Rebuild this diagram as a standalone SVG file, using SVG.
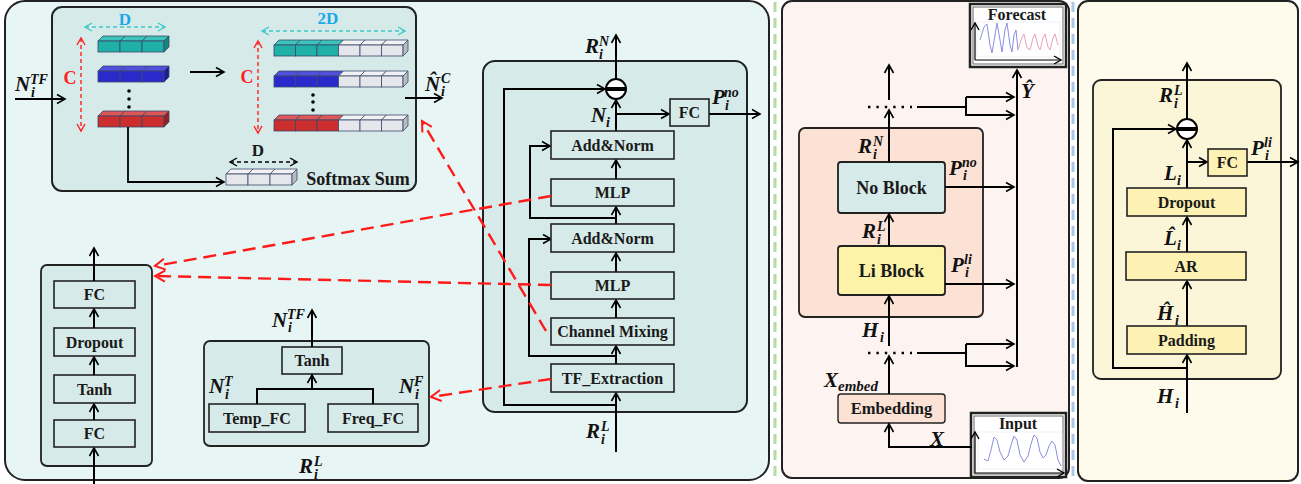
<svg xmlns="http://www.w3.org/2000/svg" xmlns:xlink="http://www.w3.org/1999/xlink" width="1301" height="484" viewBox="0 0 1301 484">
<style>
.t{font-family:"Liberation Serif",serif;font-weight:bold;font-size:16px;text-anchor:middle;dominant-baseline:central;fill:#1a1a1a}
.m{font-family:"Liberation Serif",serif;font-weight:bold;font-style:italic;font-size:21px;fill:#111}
.ms{font-family:"Liberation Serif",serif;font-weight:bold;font-style:italic;font-size:14px;fill:#111}
.box{fill:#d6ebe9;stroke:#222;stroke-width:1.6}
.ybox{fill:#fdf1b3;stroke:#222;stroke-width:1.6}
.ln{fill:none;stroke:#000;stroke-width:2}
.ar{fill:none;stroke:#000;stroke-width:2;marker-end:url(#ah)}
.rd{fill:none;stroke:#ff1a1a;stroke-width:2.4;stroke-dasharray:13 7;marker-end:url(#rh)}
.cell{stroke:#3a4a6a;stroke-width:0.8}
</style>
<defs>
<marker id="ah" markerWidth="12" markerHeight="12" refX="10" refY="6" orient="auto" markerUnits="userSpaceOnUse"><path d="M2,1.5 L10,6 L2,10.5" fill="none" stroke="#000" stroke-width="1.6"/></marker>
<marker id="rh" markerWidth="14" markerHeight="14" refX="12" refY="7" orient="auto" markerUnits="userSpaceOnUse"><path d="M2,1.5 L12,7 L2,12.5" fill="none" stroke="#ff1a1a" stroke-width="2"/></marker>
<marker id="ch" markerWidth="10" markerHeight="10" refX="8" refY="5" orient="auto-start-reverse" markerUnits="userSpaceOnUse"><path d="M1,1 L8,5 L1,9" fill="none" stroke="#40c8c8" stroke-width="1.4"/></marker>
<marker id="rsh" markerWidth="10" markerHeight="10" refX="8" refY="5" orient="auto-start-reverse" markerUnits="userSpaceOnUse"><path d="M1,1 L8,5 L1,9" fill="none" stroke="#ff2020" stroke-width="1.4"/></marker>
<marker id="bh" markerWidth="10" markerHeight="10" refX="8" refY="5" orient="auto-start-reverse" markerUnits="userSpaceOnUse"><path d="M1,1 L8,5 L1,9" fill="none" stroke="#000" stroke-width="1.4"/></marker>
<g id="tc"><polygon class="cell" points="0,0 5,-5 27,-5 22,0" fill="#3cc3ba"/><rect class="cell" x="0" y="0" width="22" height="11" fill="#1fb0a8"/></g>
<g id="bc"><polygon class="cell" points="0,0 5,-5 27,-5 22,0" fill="#5050dd"/><rect class="cell" x="0" y="0" width="22" height="11" fill="#2a2acc"/></g>
<g id="rc"><polygon class="cell" points="0,0 5,-5 27,-5 22,0" fill="#e05555"/><rect class="cell" x="0" y="0" width="22" height="11" fill="#cc2e2e"/></g>
<g id="gc"><polygon class="cell" points="0,0 5,-5 27,-5 22,0" fill="#f2f2f5"/><rect class="cell" x="0" y="0" width="22" height="11" fill="#e6e7ec"/></g>
<g id="tc2"><polygon class="cell" points="0,0 5,-5 26.5,-5 21.5,0" fill="#3cc3ba"/><rect class="cell" x="0" y="0" width="21.5" height="11" fill="#1fb0a8"/></g>
<g id="bc2"><polygon class="cell" points="0,0 5,-5 26.5,-5 21.5,0" fill="#5050dd"/><rect class="cell" x="0" y="0" width="21.5" height="11" fill="#2a2acc"/></g>
<g id="rc2"><polygon class="cell" points="0,0 5,-5 26.5,-5 21.5,0" fill="#e05555"/><rect class="cell" x="0" y="0" width="21.5" height="11" fill="#cc2e2e"/></g>
<g id="gc2"><polygon class="cell" points="0,0 5,-5 26.5,-5 21.5,0" fill="#f2f2f5"/><rect class="cell" x="0" y="0" width="21.5" height="11" fill="#e6e7ec"/></g>
</defs>
<rect width="1301" height="484" fill="#ffffff"/>

<!-- panels -->
<g id="panel-left"><rect x="5" y="1" width="764" height="479" rx="20" fill="#e8f5f5" stroke="#222" stroke-width="2"/></g>
<line x1="775" y1="2" x2="775" y2="482" stroke="#b7dba2" stroke-width="3" stroke-dasharray="10 6"/>
<g id="panel-mid"><rect x="782" y="1" width="287" height="477" rx="10" fill="#fdf4f1" stroke="#222" stroke-width="2"/></g>
<line x1="1073" y1="2" x2="1073" y2="482" stroke="#a9c9e9" stroke-width="3" stroke-dasharray="10 6"/>
<g id="panel-right"><rect x="1078" y="1" width="220" height="480" rx="10" fill="#fefbec" stroke="#222" stroke-width="2"/></g>

<!-- Softmax area -->
<g id="softmax">
<rect x="52" y="7" width="364" height="184" rx="10" fill="#d6ebe9" stroke="#222" stroke-width="2"/>
<text class="t" x="125" y="19" style="fill:#1aa8e8;font-size:17px">D</text>
<line x1="85" y1="27" x2="165" y2="27" stroke="#40c8c8" stroke-width="1.4" stroke-dasharray="4 3" marker-end="url(#ch)" marker-start="url(#ch)"/>
<text class="t" x="70" y="78" style="fill:#ff2020;font-size:18px">C</text>
<line x1="81" y1="38" x2="81" y2="131" stroke="#ff2020" stroke-width="1.4" stroke-dasharray="4 3" marker-end="url(#rsh)" marker-start="url(#rsh)"/>
<use href="#tc" x="98" y="41"/><use href="#tc" x="120" y="41"/><use href="#tc" x="142" y="41"/>
<polygon class="cell" points="164,41 169,36 169,47 164,52" fill="#14857f"/>
<use href="#bc" x="98" y="71"/><use href="#bc" x="120" y="71"/><use href="#bc" x="142" y="71"/>
<polygon class="cell" points="164,71 169,66 169,77 164,82" fill="#1c1c99"/>
<circle cx="129" cy="91" r="1.8" fill="#000"/><circle cx="129" cy="99" r="1.8" fill="#000"/><circle cx="129" cy="107" r="1.8" fill="#000"/>
<use href="#rc" x="98" y="116"/><use href="#rc" x="120" y="116"/><use href="#rc" x="142" y="116"/>
<polygon class="cell" points="164,116 169,111 169,122 164,127" fill="#9c1f1f"/>
<line class="ar" x1="190" y1="72" x2="224" y2="72"/>
<text class="t" x="328" y="18" style="fill:#1aa8e8;font-size:17px">2D</text>
<line x1="262" y1="31" x2="405" y2="31" stroke="#40c8c8" stroke-width="1.4" stroke-dasharray="4 3" marker-end="url(#ch)" marker-start="url(#ch)"/>
<text class="t" x="247" y="77" style="fill:#ff2020;font-size:18px">C</text>
<line x1="258" y1="41" x2="258" y2="133" stroke="#ff2020" stroke-width="1.4" stroke-dasharray="4 3" marker-end="url(#rsh)" marker-start="url(#rsh)"/>
<use href="#tc2" x="274" y="45"/><use href="#tc2" x="295.5" y="45"/><use href="#tc2" x="317" y="45"/>
<use href="#gc2" x="338.5" y="45"/><use href="#gc2" x="360" y="45"/><use href="#gc2" x="381.5" y="45"/>
<polygon class="cell" points="403,45 408,40 408,51 403,56" fill="#b8bac2"/>
<use href="#bc2" x="274" y="76"/><use href="#bc2" x="295.5" y="76"/><use href="#bc2" x="317" y="76"/>
<use href="#gc2" x="338.5" y="76"/><use href="#gc2" x="360" y="76"/><use href="#gc2" x="381.5" y="76"/>
<polygon class="cell" points="403,76 408,71 408,82 403,87" fill="#b8bac2"/>
<circle cx="313" cy="95" r="1.8" fill="#000"/><circle cx="313" cy="102" r="1.8" fill="#000"/><circle cx="313" cy="110" r="1.8" fill="#000"/>
<use href="#rc2" x="274" y="120"/><use href="#rc2" x="295.5" y="120"/><use href="#rc2" x="317" y="120"/>
<use href="#gc2" x="338.5" y="120"/><use href="#gc2" x="360" y="120"/><use href="#gc2" x="381.5" y="120"/>
<polygon class="cell" points="403,120 408,115 408,126 403,131" fill="#b8bac2"/>
<text class="t" x="258" y="150" style="font-size:17px">D</text>
<line x1="230" y1="162" x2="297" y2="162" stroke="#000" stroke-width="1.4" stroke-dasharray="4 3" marker-end="url(#bh)" marker-start="url(#bh)"/>
<use href="#gc" x="226" y="174"/><use href="#gc" x="248" y="174"/><use href="#gc" x="270" y="174"/>
<polygon class="cell" points="292,174 297,169 297,180 292,185" fill="#b8bac2"/>
<polyline class="ar" points="128,127 128,182 224,182" style="stroke-width:1.8"/>
<text class="t" x="358" y="179" style="font-size:18px">Softmax Sum</text>
</g>
<g id="lbl-ntf-top">
<line class="ar" x1="15" y1="99" x2="65" y2="99"/>
<text class="m" x="15" y="91">N</text><text class="ms" x="30" y="84">TF</text><text class="ms" x="31" y="97">i</text>
</g>
<g id="lbl-nhat-c">
<line class="ar" x1="405" y1="98" x2="442" y2="98"/>
<text class="m" x="425" y="91">N̂</text><text class="ms" x="441" y="83">C</text><text class="ms" x="441" y="96">i</text>
</g>

<!-- No block details -->
<g id="noblock-detail">
<rect x="483" y="61" width="264" height="351" rx="12" fill="#d6ebe9" stroke="#222" stroke-width="2"/>
</g>
<g id="connectors-no">
<line class="ar" x1="616" y1="79" x2="616" y2="35"/>
<polyline class="ar" points="616,405 504,405 504,89 605,89"/>
<line class="ar" x1="616" y1="131" x2="616" y2="100"/>
<polyline class="ar" points="616,114 669,114"/>
<line class="ar" x1="709" y1="114" x2="760" y2="114"/>
<line class="ar" x1="616" y1="179" x2="616" y2="160"/>
<polyline class="ar" points="616,218 530,218 530,146 550,146"/>
<line class="ar" x1="616" y1="224" x2="616" y2="207"/>
<polyline class="ar" points="616,356 529,356 529,239 551,239"/>
<line class="ar" x1="616" y1="272" x2="616" y2="253"/>
<line class="ar" x1="616" y1="318" x2="616" y2="300"/>
<line class="ar" x1="616" y1="364" x2="616" y2="346"/>
<line class="ar" x1="616" y1="452" x2="616" y2="393"/>
</g>
<g id="sub-no"><circle cx="616" cy="89" r="10" fill="#fff" stroke="#000" stroke-width="2"/><rect x="606.5" y="87" width="19" height="4" fill="#000"/></g>
<g id="fc-no"><rect class="box" x="670" y="99" width="39" height="27"/><text class="t" x="689.5" y="112.5">FC</text></g>
<g id="addnorm1"><rect class="box" x="551" y="131" width="123" height="28"/><text class="t" x="612.5" y="145">Add&amp;Norm</text></g>
<g id="mlp1"><rect class="box" x="551" y="179" width="123" height="27"/><text class="t" x="612.5" y="192.5">MLP</text></g>
<g id="addnorm2"><rect class="box" x="551" y="224" width="123" height="28"/><text class="t" x="612.5" y="238">Add&amp;Norm</text></g>
<g id="mlp2"><rect class="box" x="551" y="272" width="123" height="27"/><text class="t" x="612.5" y="285.5">MLP</text></g>
<g id="chmix"><rect class="box" x="551" y="318" width="123" height="27"/><text class="t" x="612.5" y="331.5">Channel Mixing</text></g>
<g id="tfext"><rect class="box" x="551" y="364" width="123" height="28"/><text class="t" x="612.5" y="378">TF_Extraction</text></g>
<g id="lbl-no">
<text class="m" x="585" y="53">R</text><text class="ms" x="599" y="46">N</text><text class="ms" x="599" y="59">i</text>
<text class="m" x="591" y="122">N</text><text class="ms" x="606" y="127">i</text>
<text class="m" x="712" y="104">P</text><text class="ms" x="724" y="97">no</text><text class="ms" x="725" y="110">i</text>
<text class="m" x="586" y="438">R</text><text class="ms" x="601" y="431">L</text><text class="ms" x="601" y="444">i</text>
</g>

<!-- MLP detail box -->
<g id="mlp-detail">
<rect x="41" y="265" width="111" height="201" rx="6" fill="#d6ebe9" stroke="#222" stroke-width="1.8"/>
<line class="ar" x1="94" y1="484" x2="94" y2="448"/>
<rect class="box" x="54" y="420" width="81" height="27"/><text class="t" x="94.5" y="433.5">FC</text>
<line class="ar" x1="94" y1="420" x2="94" y2="404"/>
<rect class="box" x="54" y="375" width="81" height="28"/><text class="t" x="94.5" y="389">Tanh</text>
<line class="ar" x1="94" y1="375" x2="94" y2="357"/>
<rect class="box" x="54" y="328" width="81" height="28"/><text class="t" x="94.5" y="342">Dropout</text>
<line class="ar" x1="94" y1="328" x2="94" y2="309"/>
<rect class="box" x="54" y="281" width="81" height="27"/><text class="t" x="94.5" y="294.5">FC</text>
<line class="ar" x1="94" y1="281" x2="94" y2="248"/>
</g>

<!-- TF extraction detail -->
<g id="tf-detail">
<rect x="204" y="341" width="225" height="105" rx="6" fill="#d6ebe9" stroke="#222" stroke-width="1.8"/>
<rect class="box" x="282" y="347" width="60" height="27"/><text class="t" x="312" y="360.5">Tanh</text>
<rect class="box" x="209" y="404" width="96" height="28"/><text class="t" x="257" y="418">Temp_FC</text>
<rect class="box" x="328" y="404" width="90" height="28"/><text class="t" x="373" y="418">Freq_FC</text>
<polyline class="ln" points="257,404 257,389 373,389 373,404"/>
<line class="ar" x1="312" y1="389" x2="312" y2="375"/>
<line class="ar" x1="312" y1="347" x2="312" y2="310"/>
<text class="m" x="272" y="327">N</text><text class="ms" x="287" y="319">TF</text><text class="ms" x="288" y="332">i</text>
<text class="m" x="209" y="393">N</text><text class="ms" x="224" y="386">T</text><text class="ms" x="225" y="399">i</text>
<text class="m" x="399" y="393">N</text><text class="ms" x="414" y="386">F</text><text class="ms" x="415" y="399">i</text>
<text class="m" x="299" y="473">R</text><text class="ms" x="314" y="466">L</text><text class="ms" x="314" y="479">i</text>
</g>

<!-- red dashed correspondences -->
<g id="connectors-red">
<line class="rd" x1="551" y1="196" x2="155" y2="266"/>
<line class="rd" x1="551" y1="285" x2="155" y2="276"/>
<line class="rd" x1="546" y1="331" x2="422" y2="121"/>
<line class="rd" x1="551" y1="379" x2="431" y2="397"/>
</g>

<!-- middle panel -->
<g id="forecast">
<rect x="970" y="4" width="96" height="63" fill="#fff" stroke="#222" stroke-width="2.5"/>
<rect x="973" y="7" width="90" height="57" fill="none" stroke="#444" stroke-width="0.8"/>
<text class="t" x="1017" y="14">Forecast</text>
<rect x="977" y="22" width="83" height="35" fill="#fff" stroke="#e8e8ee" stroke-width="0.6"/>
<polyline fill="none" stroke="#8a8ee0" stroke-width="1" points="980,40 984,27 987,24 990,45 992,53 995,35 997,23 1000,40 1002,52 1005,30 1007,23 1010,45 1012,52 1014,35 1016,30 1018,50"/>
<polyline fill="none" stroke="#eea0bc" stroke-width="1" points="1018,50 1021,40 1024,34 1027,48 1030,50 1033,38 1035,34 1038,46 1040,50 1043,38 1045,34 1048,47 1050,50 1053,38 1055,34 1058,45"/>
<line x1="975" y1="60" x2="1061" y2="60" stroke="#000" stroke-width="1.2" marker-end="url(#bh)"/>
<line x1="975" y1="60" x2="975" y2="23" stroke="#000" stroke-width="1.2" marker-end="url(#bh)"/>
</g>
<g id="input">
<rect x="971" y="413" width="95" height="64" fill="#fff" stroke="#222" stroke-width="2.5"/>
<rect x="974" y="416" width="89" height="58" fill="none" stroke="#444" stroke-width="0.8"/>
<text class="t" x="1018" y="423">Input</text>
<rect x="978" y="432" width="84" height="37" fill="#fff" stroke="#e8e8ee" stroke-width="0.6"/>
<polyline fill="none" stroke="#8a8ee0" stroke-width="1" points="984,459 988,461 991,450 994,437 997,440 1000,452 1004,460 1008,456 1011,445 1014,436 1017,440 1020,455 1024,462 1028,456 1031,444 1034,435 1037,438 1040,452 1043,458 1046,455 1049,446 1052,441 1055,445 1058,460 1061,466"/>
<line x1="975" y1="473" x2="1064" y2="473" stroke="#000" stroke-width="1.2" marker-end="url(#bh)"/>
<line x1="975" y1="473" x2="975" y2="432" stroke="#000" stroke-width="1.2" marker-end="url(#bh)"/>
</g>
<g id="block-group">
<rect x="799" y="128" width="184" height="189" rx="6" fill="#fbe2d5" stroke="#222" stroke-width="1.8"/>
</g>
<g id="noblock"><rect x="838" y="162" width="107" height="51" rx="3" fill="#d6ebe9" stroke="#222" stroke-width="1.8"/><text class="t" x="891.5" y="187.5" style="font-size:18px">No Block</text></g>
<g id="liblock"><rect x="838" y="246" width="107" height="49" rx="3" fill="#fdf3a8" stroke="#222" stroke-width="1.8"/><text class="t" x="891.5" y="270.5" style="font-size:18px">Li Block</text></g>
<g id="embedding"><rect x="838" y="394" width="107" height="29" rx="3" fill="#fbe2d5" stroke="#222" stroke-width="1.4"/><text class="t" x="891.5" y="408.5" style="font-size:16.5px">Embedding</text></g>
<g id="connectors-mid">
<line class="ar" x1="1017" y1="367" x2="1017" y2="70"/>
<line x1="868" y1="107" x2="912" y2="107" stroke="#000" stroke-width="2.4" stroke-dasharray="2.4 6"/>
<line x1="868" y1="353" x2="912" y2="353" stroke="#000" stroke-width="2.4" stroke-dasharray="2.4 6"/>
<line class="ar" x1="889" y1="100" x2="889" y2="65"/>
<line class="ar" x1="889" y1="162" x2="889" y2="110"/>
<line class="ar" x1="889" y1="246" x2="889" y2="214"/>
<line class="ar" x1="889" y1="346" x2="889" y2="296"/>
<line class="ar" x1="889" y1="394" x2="889" y2="356"/>
<polyline class="ar" points="972,447 889,447 889,424"/>
<line class="ln" x1="917" y1="107" x2="966" y2="107"/>
<polyline class="ar" points="966,97 966,115 1014,115"/>
<line class="ar" x1="966" y1="97" x2="1014" y2="97"/>
<line class="ln" x1="917" y1="353" x2="966" y2="353"/>
<polyline class="ar" points="966,344 966,366 1014,366"/>
<line class="ar" x1="966" y1="344" x2="1014" y2="344"/>
<line class="ar" x1="945" y1="187" x2="1014" y2="187"/>
<line class="ar" x1="945" y1="284" x2="1014" y2="284"/>
</g>
<g id="lbl-mid">
<text class="m" x="1021" y="98">Ŷ</text>
<text class="m" x="858" y="153">R</text><text class="ms" x="873" y="146">N</text><text class="ms" x="873" y="159">i</text>
<text class="m" x="949" y="175">P</text><text class="ms" x="962" y="167">no</text><text class="ms" x="963" y="180">i</text>
<text class="m" x="862" y="238">R</text><text class="ms" x="877" y="231">L</text><text class="ms" x="877" y="244">i</text>
<text class="m" x="951" y="272">P</text><text class="ms" x="964" y="264">li</text><text class="ms" x="965" y="277">i</text>
<text class="m" x="862" y="337">H</text><text class="ms" x="880" y="342">i</text>
<text class="m" x="824" y="387">X</text><text class="ms" x="838" y="391" style="font-size:15px">embed</text>
<text class="m" x="930" y="446">X</text>
</g>

<!-- right panel -->
<g id="li-detail"><rect x="1093" y="80" width="188" height="299" rx="8" fill="#fcf6d8" stroke="#222" stroke-width="1.8"/></g>
<g id="connectors-li">
<line class="ar" x1="1187" y1="119" x2="1187" y2="63"/>
<polyline class="ar" points="1187,368 1113,368 1113,129 1176,129"/>
<line class="ar" x1="1187" y1="188" x2="1187" y2="140"/>
<line class="ar" x1="1187" y1="162" x2="1207" y2="162"/>
<line class="ar" x1="1247" y1="162" x2="1298" y2="162"/>
<line class="ar" x1="1187" y1="252" x2="1187" y2="217"/>
<line class="ar" x1="1187" y1="326" x2="1187" y2="281"/>
<line class="ar" x1="1187" y1="413" x2="1187" y2="355"/>
</g>
<g id="sub-li"><circle cx="1187" cy="129" r="10" fill="#fff" stroke="#000" stroke-width="2"/><rect x="1177.5" y="127" width="19" height="4" fill="#000"/></g>
<g id="fc-li"><rect class="ybox" x="1208" y="149" width="39" height="27"/><text class="t" x="1227.5" y="162.5">FC</text></g>
<g id="dropout-li"><rect class="ybox" x="1127" y="188" width="119" height="28"/><text class="t" x="1186.5" y="202">Dropout</text></g>
<g id="ar-li"><rect class="ybox" x="1126" y="252" width="120" height="28"/><text class="t" x="1186" y="266">AR</text></g>
<g id="padding-li"><rect class="ybox" x="1127" y="326" width="119" height="28"/><text class="t" x="1186.5" y="340">Padding</text></g>
<g id="lbl-li">
<text class="m" x="1159" y="102">R</text><text class="ms" x="1174" y="95">L</text><text class="ms" x="1174" y="108">i</text>
<text class="m" x="1251" y="155">P</text><text class="ms" x="1264" y="147">li</text><text class="ms" x="1265" y="160">i</text>
<text class="m" x="1164" y="180">L</text><text class="ms" x="1177" y="185">i</text>
<text class="m" x="1164" y="245">L̂</text><text class="ms" x="1177" y="250">i</text>
<text class="m" x="1157" y="320">Ĥ</text><text class="ms" x="1175" y="325">i</text>
<text class="m" x="1157" y="403">H</text><text class="ms" x="1175" y="408">i</text>
</g>
</svg>
